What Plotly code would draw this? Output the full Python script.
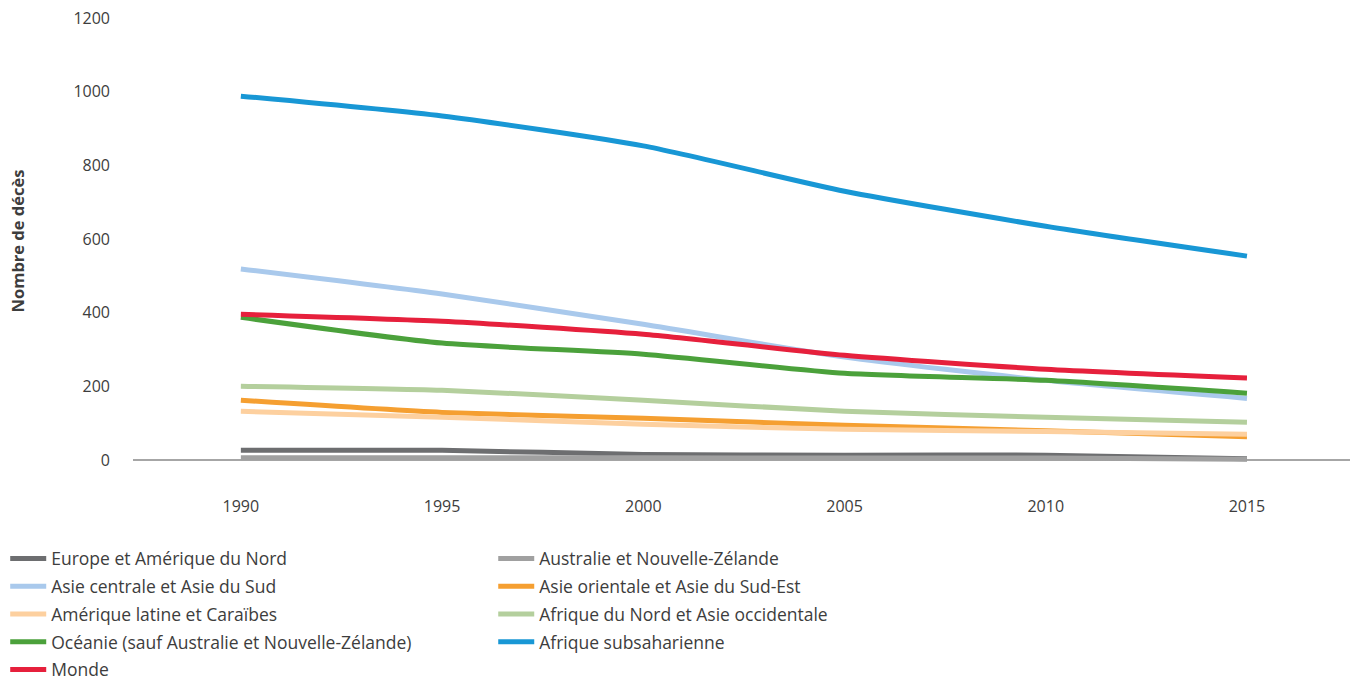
import plotly.graph_objects as go

years = [1990, 1995, 2000, 2005, 2010, 2015]

europe_amerique_nord = [27, 27, 16, 14, 14, 4]
australie_nz = [7, 7, 7, 6, 6, 3]
asie_centrale_sud = [519, 451, 369, 280, 217, 168]
asie_orientale_sud_est = [163, 130, 114, 95, 80, 64]
amerique_latine = [133, 117, 98, 84, 78, 71]
afrique_nord_asie_occ = [201, 190, 163, 133, 117, 103]
oceanie = [388, 318, 288, 236, 217, 182]
afrique_subsaharienne = [988, 934, 853, 730, 635, 554]
monde = [396, 377, 342, 285, 247, 223]

y_ticks = [0, 200, 400, 600, 800, 1000, 1200]

# (name, values, colour, legend column)
series = [
    ("Europe et Amérique du Nord", europe_amerique_nord, "#6d6e70", "legend"),
    ("Australie et Nouvelle-Zélande", australie_nz, "#a0a0a0", "legend2"),
    ("Asie centrale et Asie du Sud", asie_centrale_sud, "#a9c9ec", "legend"),
    ("Asie orientale et Asie du Sud-Est", asie_orientale_sud_est, "#f59f31", "legend2"),
    ("Amérique latine et Caraïbes", amerique_latine, "#fdd09f", "legend"),
    ("Afrique du Nord et Asie occidentale", afrique_nord_asie_occ, "#b4cf9d", "legend2"),
    ("Océanie (sauf Australie et Nouvelle-Zélande)", oceanie, "#4ba13b", "legend"),
    ("Afrique subsaharienne", afrique_subsaharienne, "#1897d5", "legend2"),
    ("Monde", monde, "#e6203c", "legend"),
]

fig = go.Figure()
for i, (name, vals, color, leg) in enumerate(series):
    fig.add_trace(go.Scatter(
        x=years, y=vals, name=name, mode="lines",
        legend=leg, legendgroup=f"g{i}",
        line=dict(color=color, width=5, shape="spline", smoothing=0.6),
    ))

font_family = "'Open Sans', sans-serif"
text_color = "#3d3d3d"

legend_common = dict(
    orientation="v", yanchor="top", xanchor="left",
    font=dict(size=17.5, color=text_color), itemwidth=36,
    tracegroupgap=2, traceorder="grouped", bgcolor="rgba(0,0,0,0)",
)

fig.update_layout(
    width=1356, height=682,
    margin=dict(l=133, r=6, t=18, b=218, autoexpand=False),
    paper_bgcolor="white", plot_bgcolor="white",
    font=dict(family=font_family, size=16, color=text_color),
    xaxis=dict(
        range=[1987.32, 2017.56], tickvals=years, ticktext=[str(y) for y in years],
        showgrid=False, zeroline=False, showline=False,
        ticks="", ticklabelstandoff=31,
        tickfont=dict(size=16, color=text_color),
    ),
    yaxis=dict(
        range=[-10, 1200], tickvals=y_ticks,
        showgrid=False, zeroline=True, zerolinecolor="#a6a6a6", zerolinewidth=1.5,
        showline=False, ticks="", ticklabelstandoff=22,
        tickfont=dict(size=16, color=text_color),
        title=dict(text="<b>Nombre de décès</b>", font=dict(size=16.5, color=text_color), standoff=44),
    ),
    showlegend=True,
    legend=dict(x=-0.105, y=-0.172, **legend_common),
    legend2=dict(x=0.296, y=-0.172, **legend_common),
)

fig.write_html("out.html")
